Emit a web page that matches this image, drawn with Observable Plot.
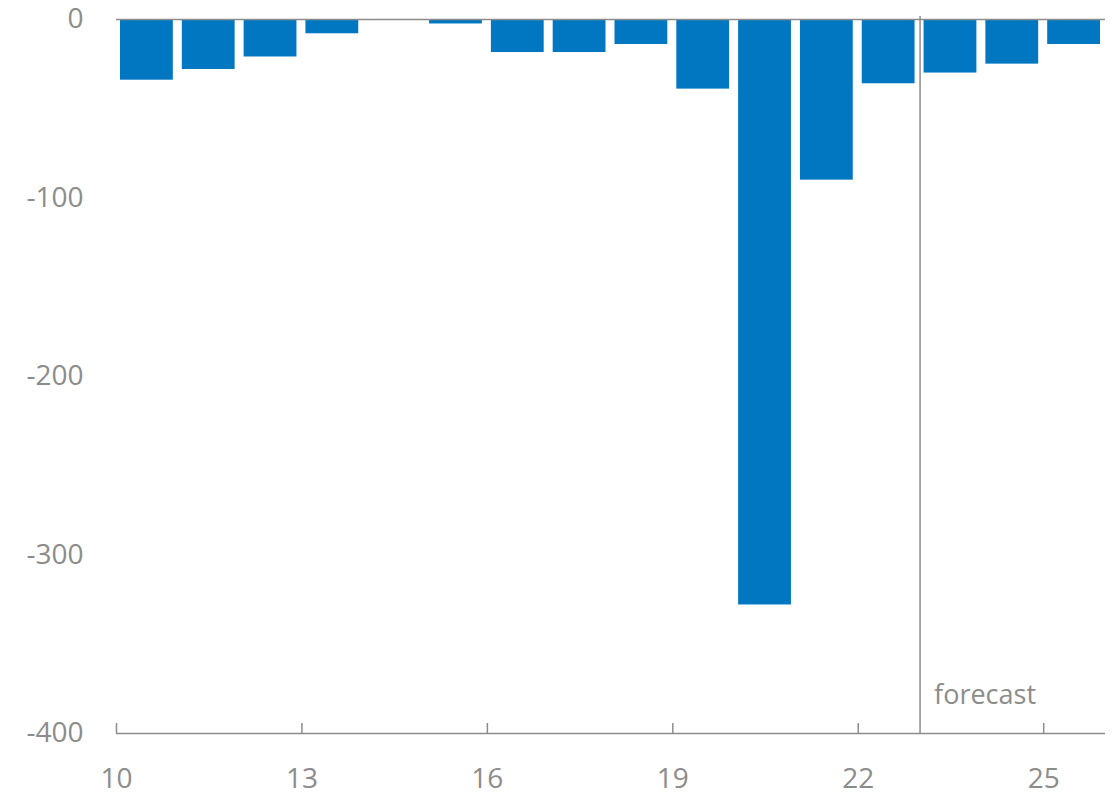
<!DOCTYPE html>
<html>
<head>
<meta charset="utf-8">
<script src="https://cdn.jsdelivr.net/npm/d3@7"></script>
<script src="https://cdn.jsdelivr.net/npm/@observablehq/plot@0.6"></script>
<style>
  html, body { margin: 0; padding: 0; background: #fff; }
  #chart svg { display: block; }
</style>
</head>
<body>
<div id="chart"></div>
<script>
// Annual values, 2010–2025 (two-digit year labels); 2023 onward is a forecast.
const years = [10, 11, 12, 13, 14, 15, 16, 17, 18, 19, 20, 21, 22, 23, 24, 25];
const values = [-34, -28, -21, -8, 0, -2.5, -18.5, -18.5, -14, -39, -328, -90, -36, -30, -25, -14];
const xTicks = [10, 13, 16, 19, 22, 25];
const yTicks = [0, -100, -200, -300, -400];
const forecastStart = [23];
const forecastLabel = "forecast";

const data = years.map((year, i) => ({year, value: values[i]}));

const grey = "#8c8c8c";
const font = "'Open Sans', 'Noto Sans', sans-serif";

const chart = Plot.plot({
  width: 1119,
  height: 795,
  marginLeft: 116,
  marginRight: 14,
  marginTop: 19,
  marginBottom: 62,
  style: {fontFamily: font, color: grey, background: "#fff", overflow: "visible"},
  x: {type: "linear", domain: [10, 26]},
  y: {domain: [-400, 0]},
  marks: [
    Plot.rectY(data, {
      x1: "year",
      x2: d => d.year + 1,
      y1: 0,
      y2: "value",
      insetLeft: 4,
      insetRight: 5,
      fill: "#0077c0"
    }),
    Plot.ruleY([0], {stroke: grey, strokeWidth: 1.5}),
    Plot.ruleY([-400], {stroke: grey, strokeWidth: 1.5}),
    Plot.ruleX(forecastStart, {stroke: grey, strokeWidth: 1.5, insetTop: -3}),
    Plot.text(forecastStart, {
      x: d => d,
      y: -400,
      text: () => forecastLabel,
      textAnchor: "start",
      dx: 14,
      dy: -38,
      fontSize: 27,
      fill: grey
    }),
    Plot.axisX(xTicks, {
      tickSize: -10,
      tickPadding: 45,
      stroke: grey,
      strokeWidth: 1.5,
      fontSize: 28,
      fill: grey,
      tickFormat: d => String(d),
      label: null
    }),
    Plot.axisY(yTicks, {
      tickSize: 0,
      tickPadding: 33,
      fontSize: 28,
      fill: grey,
      tickFormat: d => String(d),
      label: null
    })
  ]
});

document.getElementById("chart").append(chart);
</script>
</body>
</html>
